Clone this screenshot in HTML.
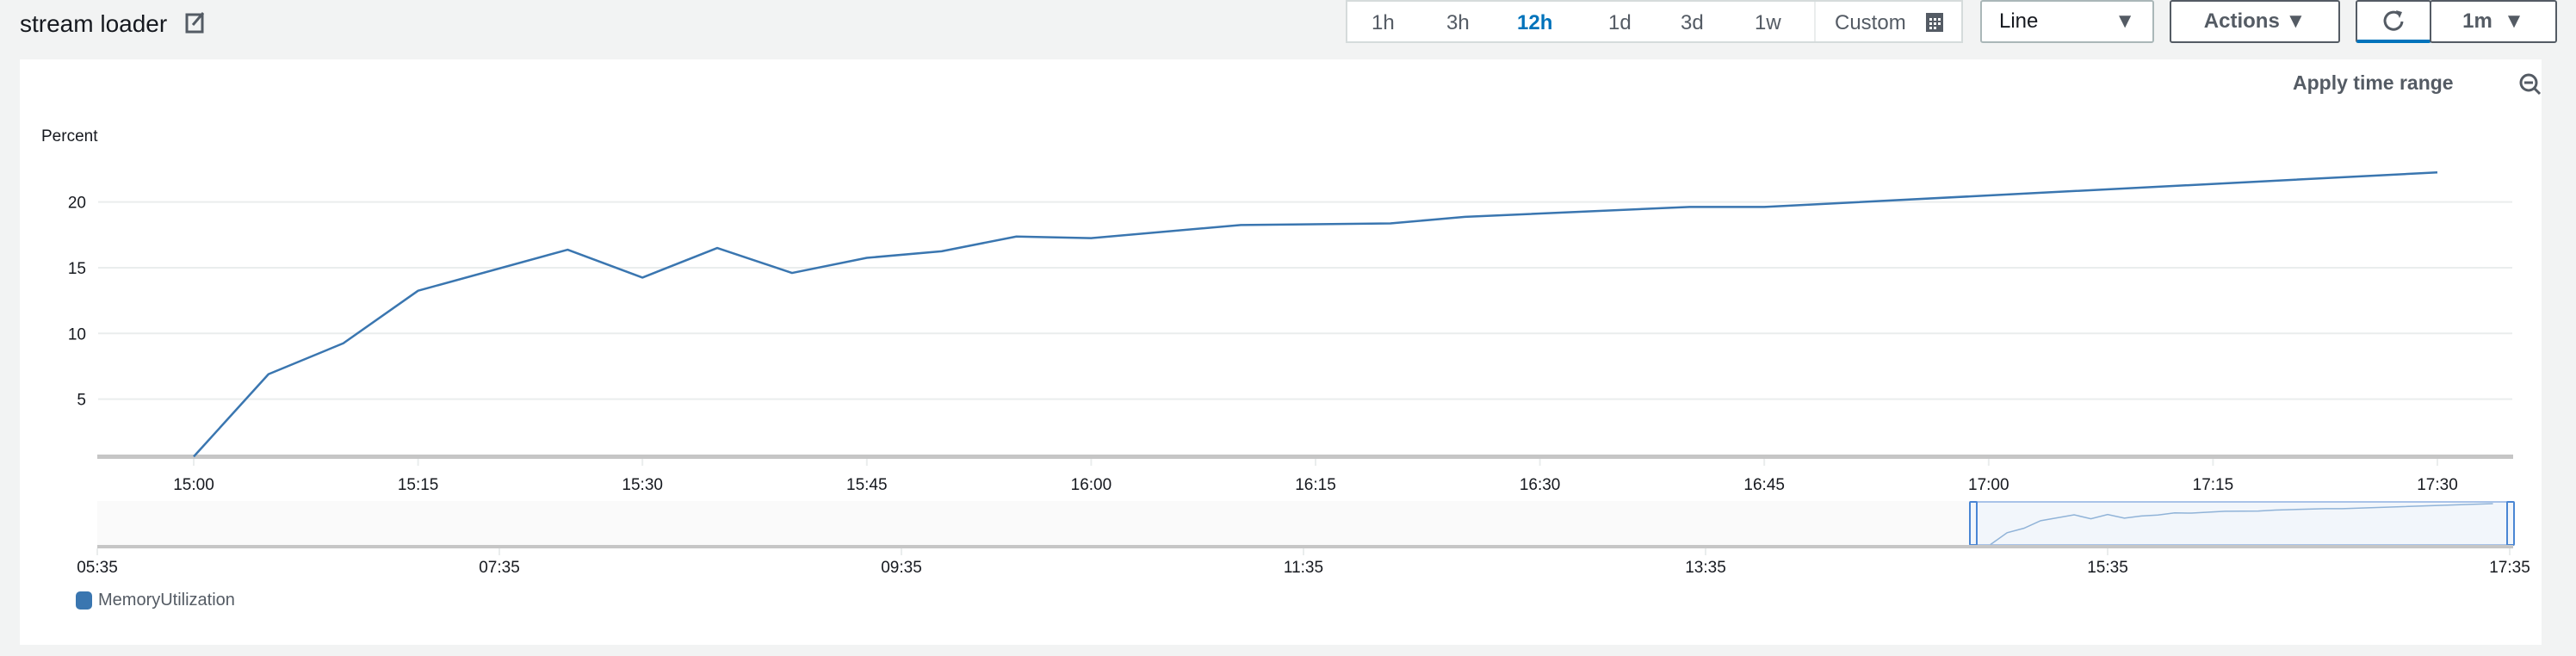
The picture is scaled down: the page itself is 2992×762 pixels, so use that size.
<!DOCTYPE html>
<html><head><meta charset="utf-8"><style>
body{margin:0;width:2992px;height:762px;background:#f2f3f3;font-family:"Liberation Sans",sans-serif;overflow:hidden;position:relative}
.abs{position:absolute}
.btn{position:absolute;top:0;height:50px;background:#fff;border:2px solid #545b64;border-radius:3px;box-sizing:border-box;font-size:24px;font-weight:bold;color:#545b64;display:flex;align-items:center;justify-content:center}
</style></head><body>
<div class="abs" style="left:23px;top:12px;font-size:28px;color:#16191f">stream loader</div>
<svg class="abs" style="left:214px;top:13px" width="26" height="28"><rect x="3" y="4" width="18" height="20" fill="none" stroke="#545b64" stroke-width="3"/><line x1="10" y1="16" x2="22" y2="2" stroke="#545b64" stroke-width="3"/></svg>
<div class="abs" style="left:1563px;top:0;width:717px;height:50px;background:#fff;border:2px solid #d5dbdb;box-sizing:border-box;font-size:24px;color:#545b64">
<span class="abs" style="left:28px;top:11px">1h</span>
<span class="abs" style="left:115px;top:11px">3h</span>
<span class="abs" style="left:197px;top:11px;color:#0073bb;font-weight:bold">12h</span>
<span class="abs" style="left:303px;top:11px">1d</span>
<span class="abs" style="left:387px;top:11px">3d</span>
<span class="abs" style="left:473px;top:11px">1w</span>
<div class="abs" style="left:542px;top:0;width:2px;height:46px;background:#eaeded"></div>
<span class="abs" style="left:566px;top:11px">Custom</span>
<svg class="abs" style="left:671px;top:12px" width="22" height="24"><rect x="1" y="1" width="20" height="22" fill="#545b64"/><g fill="#fff"><rect x="5" y="7" width="3" height="3"/><rect x="10" y="7" width="3" height="3"/><rect x="15" y="7" width="3" height="3"/><rect x="5" y="12" width="3" height="3"/><rect x="10" y="12" width="3" height="3"/><rect x="15" y="12" width="3" height="3"/><rect x="5" y="17" width="3" height="3"/><rect x="10" y="17" width="3" height="3"/></g></svg>
</div>
<div class="btn" style="left:2300px;width:202px;border-color:#aab7b8;justify-content:space-between;padding:0 20px;color:#16191f;font-weight:normal">Line<span style="color:#545b64">▼</span></div>
<div class="btn" style="left:2520px;width:198px">Actions&nbsp;▼</div>
<div class="btn" style="left:2736px;width:88px;border-bottom:4px solid #0073bb"><svg width="30" height="30"><path d="M22 8 A10 10 0 1 0 25 16" fill="none" stroke="#545b64" stroke-width="3"/><path d="M18 3 L25 5 L22 12 Z" fill="#545b64"/></svg></div>
<div class="btn" style="left:2822px;width:148px">1m&nbsp;&nbsp;▼</div>
<div class="abs" style="left:23px;top:69px;width:2929px;height:680px;background:#fff"></div>
<div class="abs" style="left:2663px;top:83px;font-size:23px;font-weight:bold;color:#545b64">Apply time range</div>
<svg class="abs" style="left:2925px;top:84px" width="28" height="28"><circle cx="12" cy="12" r="9" fill="none" stroke="#545b64" stroke-width="3"/><line x1="7" y1="12" x2="17" y2="12" stroke="#545b64" stroke-width="3"/><line x1="18" y1="18" x2="25" y2="25" stroke="#545b64" stroke-width="3"/></svg>
<svg id="chart" class="abs" style="left:0;top:0" width="2992" height="762"></svg>
<div class="abs" style="left:88px;top:686px;display:flex;align-items:center;font-size:20px;color:#545b64"><span style="width:19px;height:21px;background:#3a76b0;border-radius:5px;margin-right:7px"></span>MemoryUtilization</div>
<script>
const times=["15:00","15:05","15:10","15:15","15:25","15:30","15:35","15:40","15:45","15:50","15:55","16:00","16:10","16:20","16:25","16:40","16:45","17:30"];
const values=[0.63,6.9,9.25,13.25,16.37,14.25,16.5,14.6,15.75,16.25,17.37,17.25,18.25,18.37,18.87,19.62,19.62,22.25];
const yTicks=[5,10,15,20];
const xTickLabels=["15:00","15:15","15:30","15:45","16:00","16:15","16:30","16:45","17:00","17:15","17:30"];
const navTickLabels=["05:35","07:35","09:35","11:35","13:35","15:35","17:35"];
const NS="http://www.w3.org/2000/svg",svg=document.getElementById('chart');
function mins(t){const p=t.split(':');return +p[0]*60+ +p[1];}
const x=t=>225+(mins(t)-900)*260.6/15;
const y=v=>540-v*15.27;
const nx=t=>113+(mins(t)-335)*2802/720;
const ny=v=>634-v*2.2;
function el(tag,a,txt){const e=document.createElementNS(NS,tag);for(const k in a)e.setAttribute(k,a[k]);if(txt!=null)e.textContent=txt;svg.appendChild(e);return e;}
yTicks.forEach(v=>{
 let g=el('line',{x1:114,x2:2918,y1:y(v),y2:y(v),stroke:'#eaeded','stroke-width':2});
 
 let t=el('text',{x:100,y:y(v)+7,'text-anchor':'end','font-size':19,fill:'#16191f'},v);
 
});
let yt=el('text',{x:48,y:164,'font-size':19,fill:'#16191f'},'Percent');

let ax=el('rect',{x:113,y:528,width:2806,height:5,fill:'#c6c6c6'});

xTickLabels.forEach(l=>{
 let tk=el('line',{x1:x(l),x2:x(l),y1:533,y2:541,stroke:'#eaeded','stroke-width':2});
 
 let t=el('text',{x:x(l),y:569,'text-anchor':'middle','font-size':19,fill:'#16191f'},l);
 
});
let pl=el('polyline',{points:times.map((t,i)=>x(t)+','+y(values[i])).join(' '),fill:'none',stroke:'#3a76b0','stroke-width':2.5,'stroke-linejoin':'round'});

let nb=el('rect',{x:113,y:582,width:2806,height:52,fill:'#fafafa'});

let sel=el('rect',{x:2289,y:583,width:629,height:50,fill:'#f2f6fb',stroke:'#a9c3e8','stroke-width':2});

let npl=el('polyline',{points:times.map((t,i)=>nx(t)+','+ny(values[i])).join(' '),fill:'none',stroke:'#90b3d8','stroke-width':1.5});

[2289,2913].forEach(hx=>{
 let h=el('rect',{x:hx-1,y:583,width:8,height:50,fill:'#f2f6fb',stroke:'#4a86d4','stroke-width':2,rx:1});
 
});
let nax=el('rect',{x:113,y:633,width:2806,height:4,fill:'#c6c6c6'});

navTickLabels.forEach(l=>{
 const px=113+navTickLabels.indexOf(l)*467;
 let tk=el('line',{x1:px,x2:px,y1:637,y2:645,stroke:'#eaeded','stroke-width':2});
 
 let t=el('text',{x:px,y:665,'text-anchor':'middle','font-size':19,fill:'#16191f'},l);
 
});
</script>
</body></html>
